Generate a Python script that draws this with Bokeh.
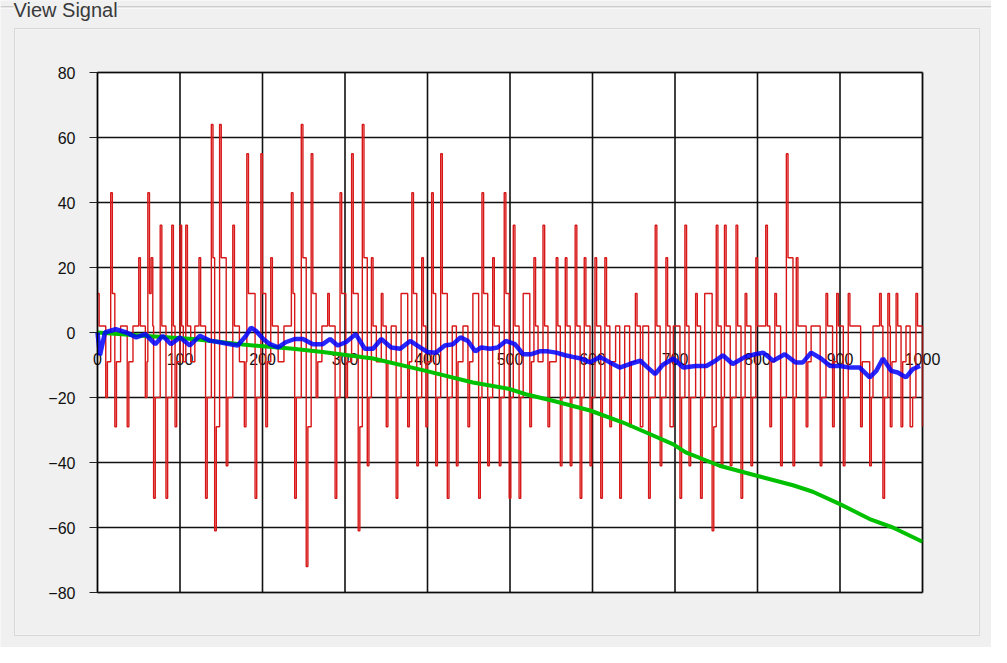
from bokeh.plotting import figure
from bokeh.models import Label, BoxAnnotation, FixedTicker, Range1d
from bokeh.embed import file_html
from bokeh.resources import INLINE

# ---- data ----
red_x = [0, 2, 6, 10, 12, 16, 18, 21, 23, 28,
         36, 38, 43, 50, 52, 55, 58, 60, 61, 63,
         65, 67, 68, 70, 76, 78, 83, 85, 90, 92,
         94, 96, 100, 102, 104, 107, 109, 113, 118, 123,
         125, 131, 133, 138, 140, 142, 144, 148, 150, 156,
         158, 164, 166, 172, 178, 180, 181, 183, 191, 193,
         198, 200, 204, 206, 210, 212, 219, 226, 235, 237,
         239, 241, 247, 249, 253, 255, 259, 261, 265, 267,
         272, 279, 281, 288, 290, 294, 296, 301, 303, 308,
         310, 316, 318, 321, 323, 327, 329, 332, 334, 338,
         344, 346, 350, 352, 356, 362, 364, 368, 376, 378,
         381, 383, 387, 389, 393, 395, 398, 400, 405, 407,
         410, 412, 416, 418, 424, 426, 430, 435, 437, 443,
         449, 451, 455, 462, 464, 466, 468, 473, 475, 479,
         481, 487, 489, 493, 495, 499, 501, 504, 506, 511,
         513, 516, 524, 526, 529, 531, 534, 540, 542, 546,
         548, 556, 558, 561, 563, 567, 569, 573, 575, 579,
         581, 585, 587, 590, 592, 597, 599, 603, 605, 610,
         612, 615, 617, 621, 623, 628, 633, 635, 639, 645,
         647, 652, 654, 658, 661, 668, 670, 676, 678, 682,
         684, 689, 691, 694, 698, 706, 708, 712, 714, 717,
         719, 725, 727, 731, 733, 736, 745, 747, 750, 752,
         756, 758, 760, 762, 767, 769, 774, 776, 780, 782,
         785, 787, 792, 794, 798, 800, 804, 810, 812, 815,
         817, 821, 823, 828, 830, 835, 837, 843, 845, 847,
         849, 853, 859, 861, 865, 876, 878, 883, 885, 891,
         893, 896, 898, 904, 906, 910, 912, 916, 925, 927,
         936, 938, 940, 948, 950, 952, 954, 958, 960, 961,
         963, 968, 970, 974, 976, 980, 985, 988, 992, 994,
         1000]
red_y = [12, 2, 2, -20, -9, 43, 12, -29, -9, 2,
         -29, -9, 2, 23, 2, 2, -20, -9, 43, 12,
         23, 2, -51, -20, 33, 2, -51, -20, 33, 2,
         -29, -9, 33, 2, -9, 33, 2, -9, 2, 23,
         2, -51, -20, 64, 23, -61, -29, 64, 23, -41,
         -20, 33, 2, -9, -29, -9, 55, 12, -51, -20,
         55, 12, -29, -9, 23, 2, -9, 2, 43, 12,
         -51, -20, 64, 23, -72, -29, 55, 12, -20, -9,
         2, 12, 2, -51, -20, 43, 12, -20, -9, 55,
         12, -61, -29, 64, 23, -41, -20, 23, 2, -9,
         12, 2, -29, -9, 2, -51, -20, 12, -29, -9,
         43, 12, -41, -20, 23, 2, -29, -9, 43, 12,
         -41, -20, 55, 12, -51, -20, 2, -41, -9, 2,
         -29, -9, 12, -51, -20, 43, 12, -41, -20, 23,
         2, -41, -20, 43, 12, -51, -20, 33, 2, -51,
         -20, 12, -29, -9, 23, 2, -9, 33, 2, -29,
         -9, 23, 2, -41, -20, 23, 2, -41, -20, 33,
         2, -51, -20, 23, 2, -41, -20, 23, 2, -51,
         -20, 23, 2, -29, -9, 2, -51, -20, 2, -29,
         -9, 12, 2, -29, 2, -51, -20, 33, 2, -41,
         -20, 23, 2, -29, 2, -51, -20, 33, 2, -41,
         -20, 12, 2, -51, -20, 12, -61, -29, 33, 2,
         -41, -20, 33, 2, -41, -20, 33, 2, -51, -20,
         12, 2, -41, -20, 23, 2, 2, 33, 2, -29,
         -9, 12, 2, -41, -20, 55, 23, -41, -20, 23,
         2, 2, -29, -9, 2, -41, -20, 12, 2, -29,
         -9, 12, 2, -41, -20, 12, 2, 2, -29, -9,
         -41, -20, 2, 12, 2, -51, -20, 12, 2, -29,
         -9, 12, 2, -29, -9, 2, -29, -20, 12, 2,
         -29]

blue_x = [0, 3, 9, 22, 35, 47, 58, 70, 79, 89, 100, 112, 124, 136, 148, 161, 170, 180, 186, 192,
          201, 209, 219, 228, 239, 249, 261, 273, 282, 291, 301, 313, 324, 334, 344, 356, 367, 379, 391, 400,
          410, 421, 431, 440, 449, 458, 465, 476, 485, 495, 506, 516, 525, 536, 546, 556, 567, 576, 586, 597,
          609, 621, 633, 645, 658, 667, 676, 685, 698, 710, 725, 738, 749, 758, 770, 785, 797, 807, 819, 833,
          846, 855, 865, 877, 888, 900, 912, 924, 936, 944, 952, 962, 970, 980, 988, 997]
blue_y = [0, -7, 0, 1, 0, -1.5, -0.5, -3.6, -1, -3.6, -1.5, -4, -1, -2.5, -3, -3.6, -4, -1, 1.5, 0.5,
          -2, -3.6, -4.6, -3, -2, -2, -3.6, -3.6, -2, -4, -3, -0.5, -5, -5, -2, -4.6, -5, -2.6, -4.6, -6,
          -6.2, -4, -3.6, -1.5, -2.6, -5.8, -4.6, -5, -4.6, -2.6, -3.6, -6.7, -6.7, -5.8, -5.8, -6.2, -7, -7.5, -8, -9.2,
          -7.5, -9.2, -10.8, -9.7, -8.7, -10.8, -12.8, -10, -8, -10.8, -10.3, -10.3, -8.7, -7, -9.7, -7.5, -6.7, -6.2, -8.7, -6.7,
          -9.2, -9.2, -6.2, -8, -10.3, -10.3, -10.8, -10.8, -13.8, -11.8, -8, -11.8, -12.3, -13.8, -11.3, -10.3]

green_x = [0, 55, 116, 176, 237, 273, 334, 398, 455, 500, 519, 552, 597, 637, 670, 698, 713, 754,
           798, 843, 867, 900, 936, 964, 1000]
green_y = [0, -1, -2, -3.7, -5, -6, -8, -11.8, -15.4, -17.4, -19, -21, -24, -27.7, -31.3, -34.4, -36.9, -41,
           -44, -47, -49, -52.8, -57.4, -60, -64.4]

x_ticks = [0, 100, 200, 300, 400, 500, 600, 700, 800, 900, 1000]
y_ticks = [-80, -60, -40, -20, 0, 20, 40, 60, 80]
title_text = "View Signal"

FONT = "Liberation Sans"
GRAY_BG = "#f0f0f0"
W, H = 991, 647

# layout: plot area occupies canvas px 97..922 (x) and 72..592 (y)
PX_L, PX_R, PX_T, PX_B = 97, 922, 72, 592
XMIN, XMAX = x_ticks[0], x_ticks[-1]
YMIN, YMAX = y_ticks[0], y_ticks[-1]
XU = (XMAX - XMIN) / (PX_R - PX_L)
YU = (YMAX - YMIN) / (PX_B - PX_T)


def xd(px):
    return XMIN + (px - PX_L) * XU


def yd(py):
    return YMAX - (py - PX_T) * YU


p = figure(width=W, height=H, min_border=0,
           x_range=Range1d(xd(0), xd(W)), y_range=Range1d(yd(H), yd(0)),
           output_backend="svg", toolbar_location=None,
           background_fill_color=GRAY_BG, border_fill_color=GRAY_BG,
           outline_line_color=None)
p.grid.visible = False

# window decorations
inner = BoxAnnotation(left=xd(14), right=xd(979), top=yd(28), bottom=yd(635),
                      fill_alpha=0, line_color="#a0a0a0", line_width=1, level="image")
p.add_layout(inner)
inner_hi = BoxAnnotation(left=xd(15), right=xd(978), top=yd(29), bottom=yd(634),
                         fill_alpha=0, line_color="#fbfbfb", line_width=1, level="image")
p.add_layout(inner_hi)
gline = BoxAnnotation(left=xd(0), right=xd(W), top=yd(6), bottom=yd(7),
                      fill_color="#a8a8a8", fill_alpha=1, line_color=None, level="image")
p.add_layout(gline)
gline2 = BoxAnnotation(left=xd(0), right=xd(W), top=yd(7), bottom=yd(8),
                       fill_color="#ffffff", fill_alpha=1, line_color=None, level="image")
p.add_layout(gline2)

# white plot area
area = BoxAnnotation(left=XMIN, right=XMAX, bottom=YMIN, top=YMAX,
                     fill_color="white", fill_alpha=1, line_color=None, level="image")
p.add_layout(area)

# grid lines from the tick lists
p.segment(x0=x_ticks, y0=[YMIN] * len(x_ticks), x1=x_ticks, y1=[YMAX] * len(x_ticks),
          line_color="#111111", line_width=1.6)
p.segment(x0=[XMIN] * len(y_ticks), y0=y_ticks, x1=[XMAX] * len(y_ticks), y1=y_ticks,
          line_color="#111111", line_width=1.6)

# x axis drawn along y = 0 (labels under the data)
xa = p.xaxis[0]
xa.ticker = FixedTicker(ticks=x_ticks)
xa.fixed_location = 0
xa.bounds = (XMIN, XMAX)
xa.axis_line_color = None
xa.major_tick_line_color = None
xa.minor_tick_line_color = None
xa.major_label_standoff = 14
xa.major_label_text_font = FONT
xa.major_label_text_font_size = "16px"
xa.major_label_text_color = "#111111"
xa.level = "underlay"

ya = p.yaxis[0]
ya.ticker = FixedTicker(ticks=y_ticks)
ya.fixed_location = XMIN
ya.bounds = (YMIN, YMAX)
ya.axis_line_color = "black"
ya.axis_line_width = 1
ya.major_tick_out = 8
ya.major_tick_in = 0
ya.major_tick_line_color = "#222222"
ya.minor_tick_line_color = None
ya.major_label_standoff = 14
ya.major_label_text_font = FONT
ya.major_label_text_font_size = "16px"
ya.major_label_text_color = "#111111"

# series
p.step(red_x, red_y, mode="after", line_color="#d81818", line_width=1.4)
p.line(green_x, green_y, line_color="#00c000", line_width=4)
p.line(blue_x, blue_y, line_color="#0000ff", line_width=4.5, line_alpha=0.85)

# black border around the plot area
border = BoxAnnotation(left=XMIN, right=XMAX, bottom=YMIN, top=YMAX,
                       fill_alpha=0, line_color="black", line_width=2)
p.add_layout(border)

lbl = Label(x=xd(13), y=yd(-2), text=title_text,
            text_font=FONT, text_font_size="20px", text_color="#3a3a3a",
            text_baseline="top", background_fill_color=GRAY_BG, background_fill_alpha=1)
p.add_layout(lbl)

html = file_html(p, INLINE, title="View Signal")
html = html.replace("<body>", '<body style="background:#000000;">', 1)
open("out.html", "w").write(html)
